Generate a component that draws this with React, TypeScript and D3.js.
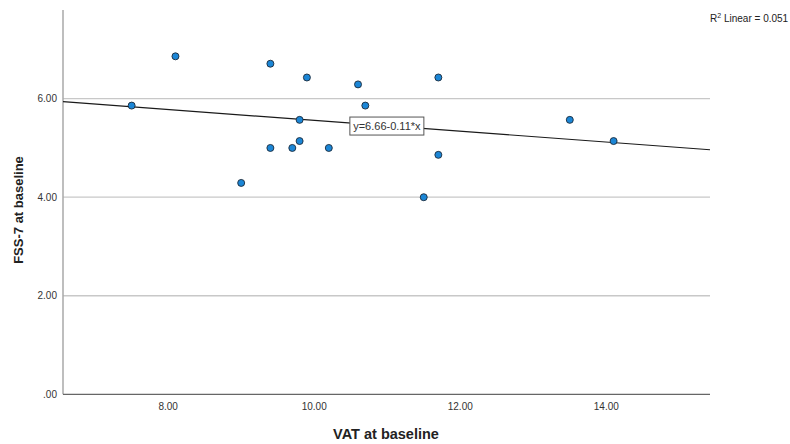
import React from "react";
import * as d3 from "d3";

// VAT at baseline (x) vs FSS-7 at baseline (y)
const vatValues = [7.5, 8.1, 9.0, 9.4, 9.4, 9.7, 9.8, 9.8, 9.9, 10.2, 10.6, 10.7, 11.5, 11.7, 11.7, 13.5, 14.1];
const fssValues = [5.86, 6.86, 4.29, 6.71, 5.0, 5.0, 5.57, 5.14, 6.43, 5.0, 6.29, 5.86, 4.0, 6.43, 4.86, 5.57, 5.14];

const xTicks = [8, 10, 12, 14];
const yTicks = [0, 2, 4, 6];

// Fit line: y = intercept + slope * x
const fitIntercept = 6.66;
const fitSlope = -0.11;
const fitLabel = "y=6.66-0.11*x";
const rSquared = "0.051";

const W = 790;
const H = 444;
const plot = { left: 63, right: 710, top: 10, bottom: 394.3 };

const fmt = (v: number) => (v === 0 ? ".00" : v.toFixed(2));

export default function App() {
  const x = d3.scaleLinear().domain([6.56, 15.42]).range([plot.left, plot.right]);
  const y = d3.scaleLinear().domain([0, 7.8]).range([plot.bottom, plot.top]);

  const [x0, x1] = x.domain();
  const fitLine = d3.line<number>()
    .x((d) => x(d))
    .y((d) => y(fitIntercept + fitSlope * d))([x0, x1]);

  const font = "Arial, 'Liberation Sans', sans-serif";
  const labelX = 10.55;
  const labelY = fitIntercept + fitSlope * labelX;

  return (
    <svg
      width={W}
      height={H}
      style={{ position: "absolute", left: 0, top: 0, background: "#fff" }}
      fontFamily={font}
    >
      {/* horizontal grid lines */}
      {yTicks.filter((t) => t > 0).map((t) => (
        <line key={t} x1={plot.left} x2={plot.right} y1={y(t)} y2={y(t)} stroke="#c8c8c8" strokeWidth={1.3} />
      ))}

      {/* axes */}
      <line x1={plot.left} x2={plot.left} y1={plot.top} y2={plot.bottom} stroke="#a8a8a8" strokeWidth={1.5} />
      <line x1={plot.left} x2={plot.right} y1={plot.bottom} y2={plot.bottom} stroke="#666" strokeWidth={1.3} />

      {/* y tick labels */}
      {yTicks.map((t) => (
        <text key={t} x={57} y={y(t) + 3.5} textAnchor="end" fontSize={10} fill="#333">
          {fmt(t)}
        </text>
      ))}

      {/* x tick labels */}
      {xTicks.map((t) => (
        <text key={t} x={x(t)} y={410} textAnchor="middle" fontSize={10} fill="#333">
          {fmt(t)}
        </text>
      ))}

      {/* axis titles */}
      <text x={386} y={439} textAnchor="middle" fontSize={14.5} fontWeight="bold" fill="#222">
        VAT at baseline
      </text>
      <text
        transform={`translate(23,210) rotate(-90)`}
        textAnchor="middle"
        fontSize={13}
        fontWeight="bold"
        fill="#222"
      >
        FSS-7 at baseline
      </text>

      {/* fit line */}
      <path d={fitLine ?? ""} fill="none" stroke="#1a1a1a" strokeWidth={1.2} />

      {/* points */}
      {vatValues.map((v, i) => (
        <circle key={i} cx={x(v)} cy={y(fssValues[i])} r={3.5} fill="#1b86d6" stroke="#1c2a3a" strokeWidth={0.9} />
      ))}

      {/* fit equation label */}
      <rect x={x(labelX) - 4.5} y={y(labelY) - 6.3} width={74} height={18} fill="#fff" stroke="#555" strokeWidth={1} />
      <text x={x(labelX) + 32.5} y={y(labelY) + 6.8} textAnchor="middle" fontSize={11} fill="#333">
        {fitLabel}
      </text>

      {/* R squared */}
      <text x={710} y={22} fontSize={10} fill="#222">
        R<tspan dy={-4} fontSize={7}>2</tspan>
        <tspan dy={4}> Linear = {rSquared}</tspan>
      </text>
    </svg>
  );
}
